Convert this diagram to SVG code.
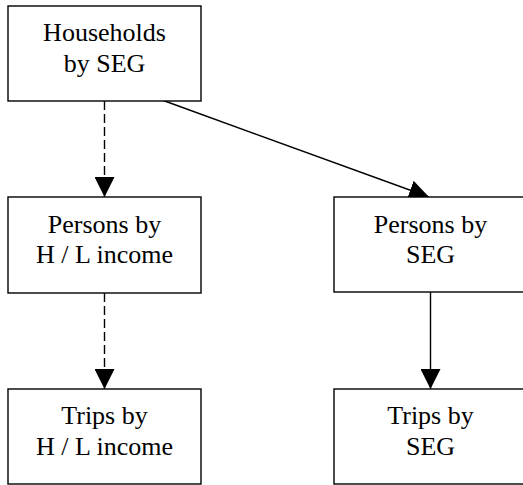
<svg xmlns="http://www.w3.org/2000/svg" width="523" height="485" viewBox="0 0 523 485">
<style>
.box{fill:#fff;stroke:#000;stroke-width:1.4}
.t{font-family:"Liberation Serif","Times New Roman",serif;font-size:26px;fill:#000;text-anchor:middle}
.c{stroke:#000;stroke-width:1.4;fill:none}
.d{stroke-dasharray:9 4}
</style>
<defs>
<marker id="ah" markerUnits="userSpaceOnUse" markerWidth="20" markerHeight="20" refX="20" refY="10" orient="auto" viewBox="0 0 20 20">
<path d="M0,0 L20,10 L0,20 z" fill="#000"/>
</marker>
</defs>
<rect width="523" height="485" fill="#fff"/>
<g id="connectors">
<line class="c d" x1="104.5" y1="101" x2="104.5" y2="197" marker-end="url(#ah)"/>
<line class="c d" x1="104.5" y1="293" x2="104.5" y2="389" marker-end="url(#ah)"/>
<line class="c" x1="162" y1="100" x2="429" y2="197" marker-end="url(#ah)"/>
<line class="c" x1="430.5" y1="292" x2="430.5" y2="389" marker-end="url(#ah)"/>
</g>
<g id="households">
<rect class="box" x="8" y="6" width="193" height="95"/>
<text class="t" x="104.5" y="41">Households</text>
<text class="t" x="104.5" y="72">by SEG</text>
</g>
<g id="persons-hl">
<rect class="box" x="8" y="197" width="193" height="96"/>
<text class="t" x="104.5" y="233">Persons by</text>
<text class="t" x="104.5" y="263">H / L income</text>
</g>
<g id="persons-seg">
<rect class="box" x="334" y="197" width="193" height="95"/>
<text class="t" x="430.5" y="233">Persons by</text>
<text class="t" x="430.5" y="263">SEG</text>
</g>
<g id="trips-hl">
<rect class="box" x="8" y="389" width="193" height="95"/>
<text class="t" x="104.5" y="424">Trips by</text>
<text class="t" x="104.5" y="455">H / L income</text>
</g>
<g id="trips-seg">
<rect class="box" x="334" y="389" width="193" height="95"/>
<text class="t" x="430.5" y="424">Trips by</text>
<text class="t" x="430.5" y="455">SEG</text>
</g>
</svg>
